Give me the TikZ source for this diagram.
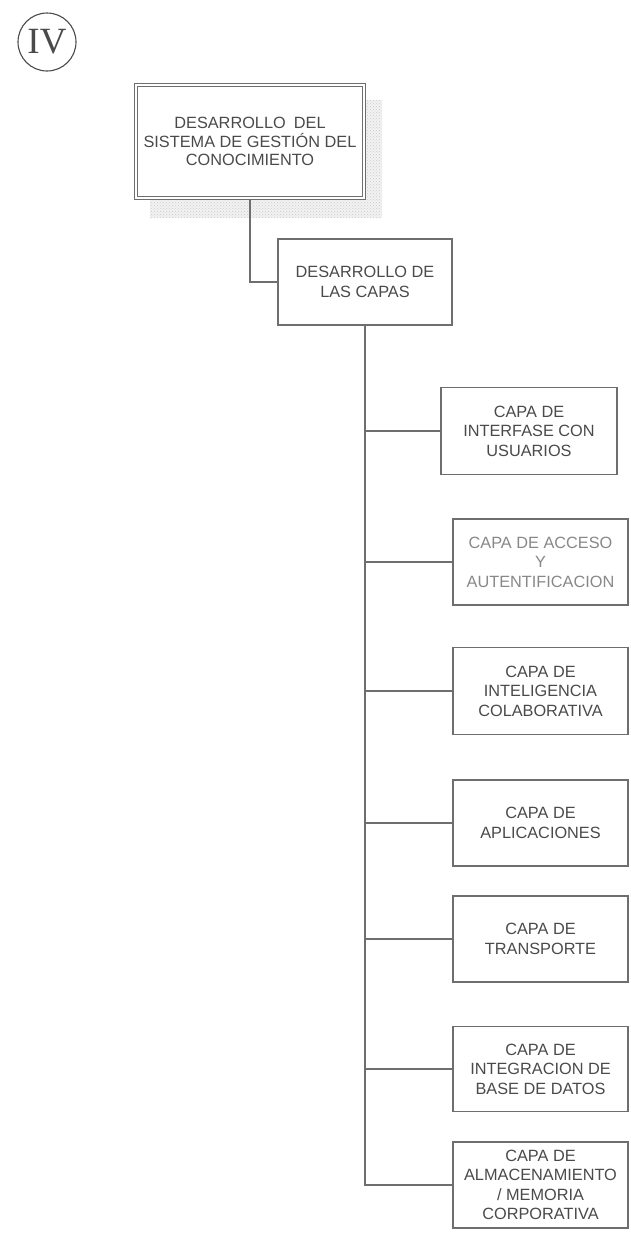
\documentclass[tikz,border=0pt]{standalone}
\usepackage{fontspec}
\setmainfont{Liberation Sans}
\newfontfamily\romanfont{Liberation Serif}
\usetikzlibrary{patterns}
\definecolor{linegray}{HTML}{6E6E6E}
\definecolor{textgray}{HTML}{4A4A4A}
\definecolor{paletext}{HTML}{888888}
\begin{document}
\begin{tikzpicture}[x=1pt,y=-1pt,
  box/.style={draw=linegray, line width=1.7pt, fill=white, align=center,
    text=textgray, font=\fontsize{16.3}{19.5}\selectfont, inner sep=0pt,
    minimum width=175pt, minimum height=86pt},
  topbox/.style={box, double=white, double distance=2.4pt, line width=1.2pt,
    minimum width=228pt, minimum height=113pt, font=\fontsize{16.3}{18.5}\selectfont},
  link/.style={draw=linegray, line width=1.8pt}]
\useasboundingbox (0,0) rectangle (631,1245);
\fill[white] (0,0) rectangle (631,1245);

% roman numeral in a circle
\node[circle, draw=textgray, line width=1.1pt, minimum size=58pt, inner sep=0pt,
  text=textgray, font=\romanfont\fontsize{37}{37}\selectfont] (num) at (47,42) {IV};

% stippled shadow behind the main box
\fill[gray!10] (366,100) -- (382,100) -- (382,218) -- (150,218) -- (150,200) -- (366,200) -- cycle;
\fill[pattern=crosshatch dots, pattern color=gray!40]
  (366,100) -- (382,100) -- (382,218) -- (150,218) -- (150,200) -- (366,200) -- cycle;

% main box and second level
\node[topbox] (b1) at (250,141.5) {DESARROLLO\enspace DEL\\SISTEMA DE GESTIÓN DEL\\CONOCIMIENTO};
\node[box, minimum width=174pt] (b2) at (365,282) {DESARROLLO DE\\LAS CAPAS};

% layers
\node[box, minimum width=176pt, minimum height=87pt] (b3) at (529,431) {CAPA DE\\INTERFASE CON\\USUARIOS};
\node[box, text=paletext] (b4) at (540.5,562) {CAPA DE ACCESO\\Y\\AUTENTIFICACION};
\node[box, minimum height=87pt] (b5) at (540.5,691) {CAPA DE\\INTELIGENCIA\\COLABORATIVA};
\node[box] (b6) at (540.5,823) {CAPA DE\\APLICACIONES};
\node[box] (b7) at (540.5,939) {CAPA DE\\TRANSPORTE};
\node[box, minimum height=85pt] (b8) at (540.5,1069) {CAPA DE\\INTEGRACION DE\\BASE DE DATOS};
\node[box] (b9) at (540.5,1185) {CAPA DE\\ALMACENAMIENTO\\/ MEMORIA\\CORPORATIVA};

% connectors
\draw[link] (b1.south) |- (b2.west);
\draw[link] (b2.south) |- (b9.west);
\foreach \n in {b3,b4,b5,b6,b7,b8}
  \draw[link] (b2.south |- \n.west) -- (\n.west);
\end{tikzpicture}
\end{document}
